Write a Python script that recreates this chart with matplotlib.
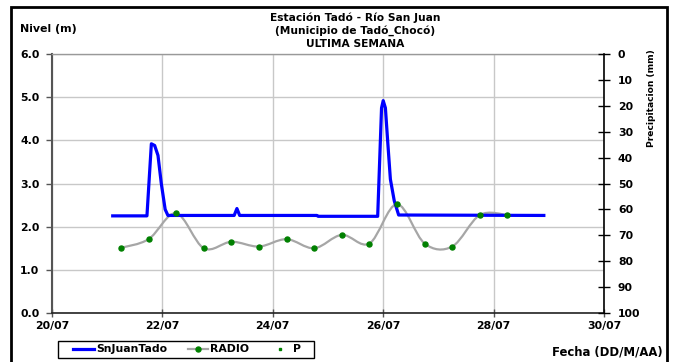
import datetime as dt
import numpy as np
import matplotlib
matplotlib.use("Agg")
import matplotlib.pyplot as plt
import matplotlib.dates as mdates
from matplotlib.path import Path
from matplotlib.patches import PathPatch, Rectangle
from matplotlib.lines import Line2D

plt.rcParams['font.family'] = ['DejaVu Sans']
plt.rcParams['font.weight'] = 'bold'

# ---------------- data ----------------
BASE = dt.datetime(2009, 7, 20)
# SnJuanTado level (m): time in days after 20/07 00:00
level_days = [1.10, 1.72, 1.80, 1.86, 1.92, 1.98, 2.05, 2.10, 3.30, 3.35, 3.40,
              4.80, 4.82, 5.90, 5.97, 6.00, 6.04, 6.08, 6.13, 6.20, 6.28, 8.91]
level_vals = [2.25, 2.25, 3.92, 3.88, 3.65, 3.00, 2.40, 2.26, 2.26, 2.42, 2.26,
              2.26, 2.24, 2.24, 4.75, 4.92, 4.75, 4.00, 3.10, 2.60, 2.27, 2.26]
# RADIO readings (m)
radio_days = [1.25, 1.75, 2.25, 2.75, 3.25, 3.75, 4.25, 4.75, 5.25, 5.75,
              6.25, 6.75, 7.25, 7.75, 8.25]
radio_vals = [1.51, 1.71, 2.31, 1.50, 1.65, 1.54, 1.71, 1.50, 1.81, 1.61,
              2.52, 1.61, 1.54, 2.27, 2.27]
# Precipitation (mm): no records in the week
precip_days = []
precip_vals = []

title_lines = ['Estación Tadó - Río San Juan', '(Municipio de Tadó_Chocó)', 'ULTIMA SEMANA']

def to_dates(days):
    return [BASE + dt.timedelta(days=d) for d in days]

# ---------------- figure ----------------
W, H = 676, 362
fig = plt.figure(figsize=(W / 100, H / 100), dpi=100)
ax = fig.add_axes([52 / W, 1 - 313 / H, (604 - 52) / W, (313 - 54) / H])

FS = 7.8
FT = 7.7
x0 = mdates.date2num(BASE)
ax.set_xlim(x0, x0 + 10)
ax.set_ylim(0, 6)
ax.xaxis.set_major_locator(mdates.DayLocator(interval=2))
ax.xaxis.set_major_formatter(mdates.DateFormatter('%d/%m'))
ax.set_yticks(np.arange(0, 6.01, 1.0))
ax.yaxis.set_major_formatter(matplotlib.ticker.FormatStrFormatter('%.1f'))
ax.grid(True, color='#c8c8c8', lw=1.0)
ax.set_axisbelow(True)
ax.tick_params(axis='y', direction='out', length=4, width=1, color='#555555',
               labelsize=FS, pad=5)
ax.tick_params(axis='x', direction='inout', length=6, width=1, color='#555555',
               labelsize=FS, pad=3)
for lab in ax.get_xticklabels() + ax.get_yticklabels():
    lab.set_fontweight('bold')
ax.spines['left'].set_color('#555555')
ax.spines['left'].set_linewidth(1.5)
ax.spines['bottom'].set_color('#222222')
ax.spines['bottom'].set_linewidth(1.2)
ax.spines['top'].set_color('#999999')
ax.spines['top'].set_linewidth(1.0)
ax.spines['right'].set_visible(False)

# level line
ax.plot(to_dates(level_days), level_vals, color='#0000ff', lw=2.3, zorder=3,
        solid_joinstyle='round')

# RADIO smoothed line (Catmull-Rom as cubic Bezier)
rx = mdates.date2num(to_dates(radio_days))
ry = np.array(radio_vals)
P = np.column_stack([rx, ry])
verts = [tuple(P[0])]
codes = [Path.MOVETO]
n = len(P)
for i in range(n - 1):
    p0 = P[i - 1] if i > 0 else P[i]
    p1 = P[i]
    p2 = P[i + 1]
    p3 = P[i + 2] if i + 2 < n else P[i + 1]
    c1 = p1 + (p2 - p0) / 6.0
    c2 = p2 - (p3 - p1) / 6.0
    verts += [tuple(c1), tuple(c2), tuple(p2)]
    codes += [Path.CURVE4] * 3
ax.add_patch(PathPatch(Path(verts, codes), facecolor='none', edgecolor='#a6a6a6',
                       lw=1.6, zorder=2.5))
ax.plot(to_dates(radio_days), radio_vals, ls='none', marker='o', ms=3.6,
        color='#008000', zorder=4)

# precipitation axis
ax2 = ax.twinx()
ax2.set_ylim(100, 0)
ax2.set_yticks(np.arange(0, 101, 10))
ax2.tick_params(axis='y', direction='inout', length=8, width=1, color='black',
                labelsize=FS, pad=6)
for lab in ax2.get_yticklabels():
    lab.set_fontweight('bold')
for s in ['left', 'top', 'bottom']:
    ax2.spines[s].set_visible(False)
ax2.spines['right'].set_color('black')
ax2.spines['right'].set_linewidth(1.2)
ax2.plot(to_dates(precip_days), precip_vals, ls='none', marker='s', ms=2,
         color='#008000')

# texts
fig.text(355 / W, 1 - 18 / H, title_lines[0], ha='center', va='center', fontsize=FT, fontweight='bold')
fig.text(355 / W, 1 - 31 / H, title_lines[1], ha='center', va='center', fontsize=FT, fontweight='bold')
fig.text(355 / W, 1 - 44 / H, title_lines[2], ha='center', va='center', fontsize=FT, fontweight='bold')
fig.text(20 / W, 1 - 29 / H, 'Nivel (m)', ha='left', va='center', fontsize=7.9, fontweight='bold')
fig.text(651 / W, 1 - 98 / H, 'Precipitacion (mm)', ha='center', va='center', rotation=90,
         fontsize=6.6, fontweight='bold')
fig.text(663 / W, 1 - 352 / H, 'Fecha (DD/M/AA)', ha='right', va='center', fontsize=8.4, fontweight='bold')

# legend
handles = [Line2D([], [], color='#0000ff', lw=2.3),
           Line2D([], [], color='#a6a6a6', lw=1.6, marker='o', ms=3.6,
                  markerfacecolor='#008000', markeredgecolor='#008000'),
           Line2D([], [], ls='none', marker='s', ms=2, color='#008000')]
leg = fig.legend(handles, ['SnJuanTado', 'RADIO', 'P'], ncol=3,
                 loc='center', bbox_to_anchor=(187 / W, 1 - 349.5 / H),
                 frameon=False, handlelength=1.9,
                 handletextpad=0.2, columnspacing=1.9,
                 prop={'weight': 'bold', 'size': FS})
fig.add_artist(Rectangle((58 / W, 1 - 358 / H), (314 - 58) / W, 17 / H,
                         transform=fig.transFigure, fill=False, edgecolor='black',
                         lw=1.0))

# outer frame
fig.add_artist(Rectangle((11 / W, -0.05), (667 - 11) / W, 1.05 - 7 / H,
                         transform=fig.transFigure, fill=False, edgecolor='black',
                         lw=2.0, clip_on=False))

fig.savefig('out.png', dpi=100)
